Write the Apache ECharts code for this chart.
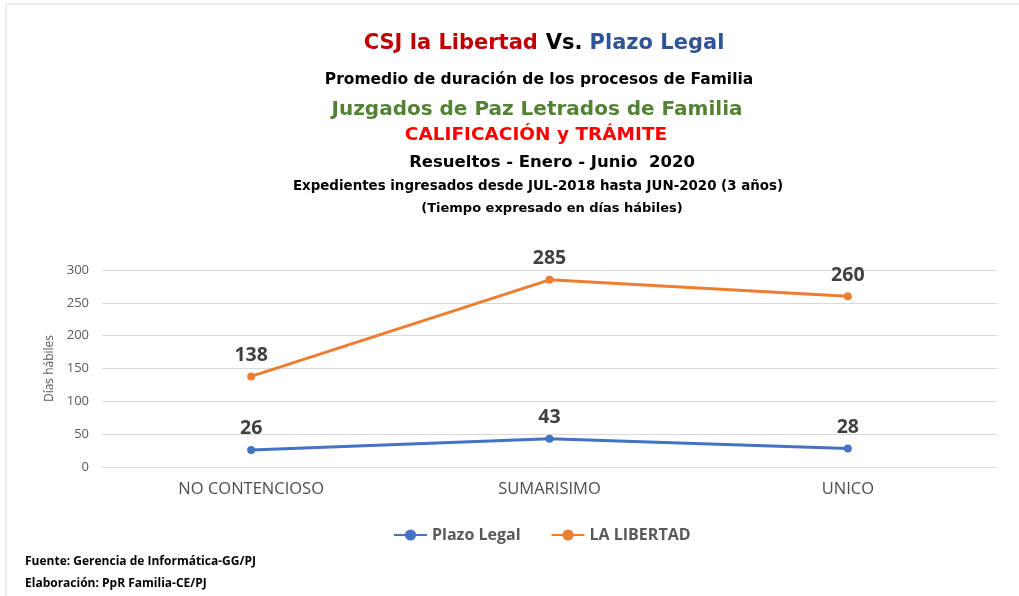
<!DOCTYPE html>
<html>
<head>
<meta charset="utf-8">
<script src="https://cdn.jsdelivr.net/npm/echarts@6/dist/echarts.min.js"></script>
<style>
  html, body { margin: 0; padding: 0; background: #fff; }
  #main { width: 1019px; height: 596px; }
</style>
</head>
<body>
<div id="main"></div>
<script>
// Data
var categories = ['NO CONTENCIOSO', 'SUMARISIMO', 'UNICO'];
var plazoLegal = [26, 43, 28];
var laLibertad = [138, 285, 260];

var FONT = 'Open Sans, Noto Sans, Arial, sans-serif';
var WIDE = 'DejaVu Sans, Verdana, sans-serif';

var chartDom = document.getElementById('main');
var myChart = echarts.init(chartDom);

function centerText(txt, x, top, size, color) {
  return {
    text: txt,
    left: x,
    top: top,
    textAlign: 'center',
    textStyle: { fontSize: size, fontWeight: 'bold', color: color, fontFamily: WIDE }
  };
}

var option = {
  title: [
    {
      text: '{r|CSJ la Libertad} {k|Vs.} {b|Plazo Legal}',
      left: 539,
      top: 28,
      textAlign: 'center',
      textStyle: {
        rich: {
          r: { fontSize: 21, fontWeight: 'bold', color: '#C00000', fontFamily: WIDE },
          k: { fontSize: 21, fontWeight: 'bold', color: '#000', fontFamily: WIDE, padding: [0, 2, 0, 3] },
          b: { fontSize: 21, fontWeight: 'bold', color: '#2F5597', fontFamily: WIDE }
        }
      }
    },
    centerText('Promedio de duración de los procesos de Familia', 534, 67, 15.5, '#000'),
    centerText('Juzgados de Paz Letrados de Familia', 532, 95, 20, '#548235'),
    centerText('CALIFICACIÓN y TRÁMITE', 531, 121, 18.5, '#FF0000'),
    centerText('Resueltos - Enero - Junio  2020', 547, 149, 16.5, '#000'),
    centerText('Expedientes ingresados desde JUL-2018 hasta JUN-2020 (3 años)', 533, 175, 13.4, '#000'),
    centerText('(Tiempo expresado en días hábiles)', 547, 197, 13, '#000'),
    {
      text: 'Fuente: Gerencia de Informática-GG/PJ',
      left: 20, top: 551,
      textStyle: { fontSize: 12, fontWeight: 'bold', color: '#000', fontFamily: FONT }
    },
    {
      text: 'Elaboración: PpR Familia-CE/PJ',
      left: 20, top: 573,
      textStyle: { fontSize: 12, fontWeight: 'bold', color: '#000', fontFamily: FONT }
    }
  ],
  graphic: [
    {
      type: 'rect',
      shape: { x: 6, y: 4, width: 1020, height: 600 },
      style: { fill: 'none', stroke: '#d9d9d9', lineWidth: 1 },
      silent: true
    }
  ],
  legend: {
    bottom: 48,
    left: 388,
    itemWidth: 33,
    itemGap: 30,
    textStyle: { fontSize: 16, fontWeight: 'bold', color: '#595959', fontFamily: FONT },
    data: ['Plazo Legal', 'LA LIBERTAD']
  },
  grid: {
    left: 102,
    right: 22,
    top: 270,
    bottom: 129
  },
  xAxis: {
    type: 'category',
    data: categories,
    axisLine: { show: false },
    axisTick: { show: false },
    axisLabel: { fontSize: 16.5, color: '#4d4d4d', margin: 14, fontFamily: FONT }
  },
  yAxis: {
    type: 'value',
    min: 0,
    max: 300,
    interval: 50,
    name: 'Días hábiles',
    nameLocation: 'middle',
    nameGap: 46,
    nameTextStyle: { fontSize: 12, color: '#595959', fontFamily: FONT },
    axisLabel: { fontSize: 13, color: '#595959', margin: 13, fontFamily: FONT },
    splitLine: { lineStyle: { color: '#d9d9d9', width: 1 } }
  },
  series: [
    {
      name: 'Plazo Legal',
      type: 'line',
      data: plazoLegal,
      symbol: 'circle',
      symbolSize: 8,
      color: '#4472C4',
      lineStyle: { width: 3 },
      label: {
        show: true, position: 'top', distance: 7,
        fontSize: 19.5, fontWeight: 'bold', color: '#404040', fontFamily: FONT
      }
    },
    {
      name: 'LA LIBERTAD',
      type: 'line',
      data: laLibertad,
      symbol: 'circle',
      symbolSize: 8,
      color: '#ED7D31',
      lineStyle: { width: 3 },
      label: {
        show: true, position: 'top', distance: 7,
        fontSize: 19.5, fontWeight: 'bold', color: '#404040', fontFamily: FONT
      }
    }
  ]
};

myChart.setOption(option);
window.addEventListener('resize', function () { myChart.resize(); });
</script>
</body>
</html>
